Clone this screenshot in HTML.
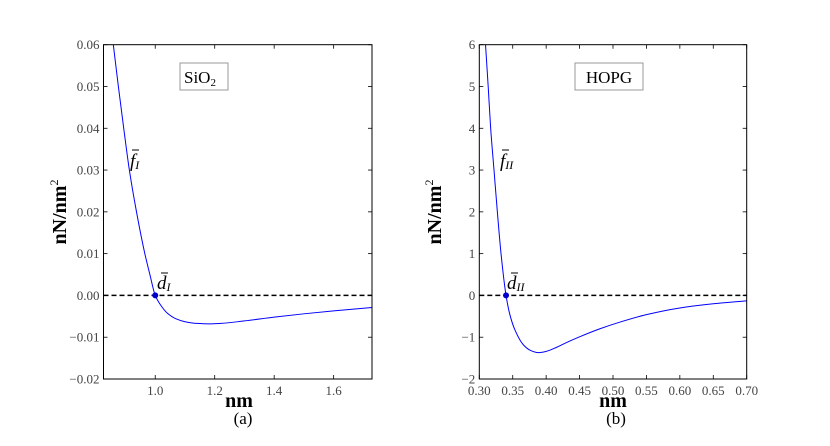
<!DOCTYPE html>
<html><head><meta charset="utf-8"><style>
body{margin:0;background:#fff}
svg{display:block}
.tk{font-family:"Liberation Serif","DejaVu Serif",serif;font-size:13px;fill:#444}
.lab{font-family:"Liberation Serif","DejaVu Serif",serif;font-size:20px;font-weight:bold;fill:#000}
.cap{font-family:"Liberation Serif","DejaVu Serif",serif;font-size:17px;fill:#000}
.ann{font-family:"Liberation Serif","DejaVu Serif",serif;font-size:19px;font-style:italic;fill:#000}
</style></head><body>
<svg id="c" width="830" height="446"></svg>
<script>
const leftX=[0.859,0.876,0.894,0.913,0.937,0.965,0.982,1.0,1.02,1.04,1.07,1.1,1.14,1.18,1.22,1.3,1.4,1.5,1.6,1.729];
const leftY=[0.06,0.05,0.04,0.03,0.02,0.01,0.005,0,-0.0025,-0.0042,-0.0056,-0.0063,-0.0067,-0.0068,-0.0067,-0.0061,-0.0052,-0.0044,-0.0037,-0.0029];
const rightX=[0.3093,0.3133,0.317,0.322,0.327,0.3325,0.340,0.3459,0.3534,0.3658,0.377,0.388,0.40,0.4158,0.43,0.45,0.48,0.51,0.55,0.60,0.65,0.70];
const rightY=[6,5,4,3,2,1,0,-0.47,-0.83,-1.18,-1.32,-1.37,-1.34,-1.24,-1.13,-0.99,-0.80,-0.64,-0.46,-0.30,-0.20,-0.13];
const leftXTicks=[1.0,1.2,1.4,1.6];
const leftXTickLabels=["1.0","1.2","1.4","1.6"];
const leftYTicks=[-0.02,-0.01,0,0.01,0.02,0.03,0.04,0.05,0.06];
const leftYTickLabels=["\u22120.02","\u22120.01","0.00","0.01","0.02","0.03","0.04","0.05","0.06"];
const rightXTicks=[0.30,0.35,0.40,0.45,0.50,0.55,0.60,0.65,0.70];
const rightXTickLabels=["0.30","0.35","0.40","0.45","0.50","0.55","0.60","0.65","0.70"];
const rightYTicks=[-2,-1,0,1,2,3,4,5,6];
const rightYTickLabels=["\u22122","\u22121","0","1","2","3","4","5","6"];
const leftMarker=[1.0,0];
const rightMarker=[0.340,0];

const svg=document.getElementById('c');
const NS='http://www.w3.org/2000/svg';
function mk(t,a,p){const e=document.createElementNS(NS,t);for(const k in a)e.setAttribute(k,a[k]);(p||svg).appendChild(e);return e;}
function monoPath(P){
  const n=P.length,dx=[],m=[],t=[];
  for(let i=0;i<n-1;i++){dx[i]=P[i+1][0]-P[i][0];m[i]=(P[i+1][1]-P[i][1])/dx[i];}
  t[0]=m[0];t[n-1]=m[n-2];
  for(let i=1;i<n-1;i++){ if(m[i-1]*m[i]<=0)t[i]=0; else {const w1=2*dx[i]+dx[i-1],w2=dx[i]+2*dx[i-1];t[i]=(w1+w2)/(w1/m[i-1]+w2/m[i]);}}
  let d='M'+P[0][0]+','+P[0][1];
  for(let i=0;i<n-1;i++){const h=dx[i]/3;
    d+=' C'+(P[i][0]+h)+','+(P[i][1]+t[i]*h)+' '+(P[i+1][0]-h)+','+(P[i+1][1]-t[i+1]*h)+' '+P[i+1][0]+','+P[i+1][1];}
  return d;
}
function panel(o){
  const g=mk('g',{});
  
  
  const sx=v=>o.x0+(v-o.xmin)/(o.xmax-o.xmin)*(o.x1-o.x0);
  const sy=v=>o.y1-(v-o.ymin)/(o.ymax-o.ymin)*(o.y1-o.y0);
  o.xt.forEach((v,i)=>{const x=sx(v);
    mk('line',{x1:x,x2:x,y1:o.y1,y2:o.y1-4,stroke:'#000','stroke-width':0.8},g);
    mk('line',{x1:x,x2:x,y1:o.y0,y2:o.y0+4,stroke:'#000','stroke-width':0.8},g);
    const t=mk('text',{x:x,y:o.y1+16,'text-anchor':'middle',class:'tk'},g);t.textContent=o.xl[i];
    
    });
  o.yt.forEach((v,i)=>{const y=sy(v);
    mk('line',{x1:o.x0,x2:o.x0+4,y1:y,y2:y,stroke:'#000','stroke-width':0.8},g);
    mk('line',{x1:o.x1,x2:o.x1-4,y1:y,y2:y,stroke:'#000','stroke-width':0.8},g);
    const t=mk('text',{x:o.x0-4,y:y+4.5,'text-anchor':'end',class:'tk'},g);t.textContent=o.yl[i];
    
    });
  const z=mk('line',{x1:o.x0,x2:o.x1,y1:sy(0),y2:sy(0),stroke:'#000','stroke-width':1.5,'stroke-dasharray':'5,3'},g);
  
  
  const P=o.dx.map((v,i)=>[sx(v),sy(o.dy[i])]);
  const c=mk('path',{d:monoPath(P),fill:'none',stroke:'#0000ff','stroke-width':1},g);
  
  
  const m=mk('circle',{cx:sx(o.m[0]),cy:sy(o.m[1]),r:3,fill:'#0000cc'},g);
  
  
  const b=mk('rect',{x:o.x0,y:o.y0,width:o.x1-o.x0,height:o.y1-o.y0,fill:'none',stroke:'#000','stroke-width':1},g);
  
  
  return g;
}
panel({name:'panel-a',x0:103.5,x1:372,y0:44.7,y1:379,xmin:0.826,xmax:1.729,ymin:-0.02,ymax:0.06,xt:leftXTicks,xl:leftXTickLabels,yt:leftYTicks,yl:leftYTickLabels,dx:leftX,dy:leftY,m:leftMarker});
panel({name:'panel-b',x0:479.3,x1:746.7,y0:44.7,y1:379,xmin:0.30,xmax:0.70,ymin:-2,ymax:6,xt:rightXTicks,xl:rightXTickLabels,yt:rightYTicks,yl:rightYTickLabels,dx:rightX,dy:rightY,m:rightMarker});
</script>
<svg width="830" height="446" style="position:absolute;left:0;top:0">
<text class="lab" x="66" y="212" text-anchor="middle" transform="rotate(-90 66 212)">nN/nm<tspan dy="-8" font-size="12" font-weight="normal">2</tspan></text>
<text class="lab" x="441" y="212" text-anchor="middle" transform="rotate(-90 441 212)">nN/nm<tspan dy="-8" font-size="12" font-weight="normal">2</tspan></text>
<text class="lab" x="239" y="407" text-anchor="middle">nm</text>
<text class="lab" x="613" y="407" text-anchor="middle">nm</text>
<text class="cap" x="243" y="424" text-anchor="middle">(a)</text>
<text class="cap" x="616" y="424" text-anchor="middle">(b)</text>
<rect x="180" y="63" width="48" height="27" fill="#fff" stroke="#999"/>
<text class="cap" x="184" y="83">SiO<tspan font-size="11" dy="3">2</tspan></text>
<rect x="575" y="63" width="68" height="27" fill="#fff" stroke="#999"/>
<text class="cap" x="609" y="83" text-anchor="middle">HOPG</text>
<text class="ann" x="130" y="167"><tspan>f</tspan><tspan font-size="12" dy="2">I</tspan></text>
<line x1="132" y1="150" x2="139" y2="150" stroke="#000" stroke-width="1"/>
<text class="ann" x="157" y="289"><tspan>d</tspan><tspan font-size="12" dy="2">I</tspan></text>
<line x1="161" y1="273" x2="168" y2="273" stroke="#000" stroke-width="1"/>
<text class="ann" x="500" y="167"><tspan>f</tspan><tspan font-size="12" dy="2">II</tspan></text>
<line x1="502" y1="150" x2="509" y2="150" stroke="#000" stroke-width="1"/>
<text class="ann" x="507" y="289"><tspan>d</tspan><tspan font-size="12" dy="2">II</tspan></text>
<line x1="511" y1="273" x2="518" y2="273" stroke="#000" stroke-width="1"/>
</svg>
</body></html>
